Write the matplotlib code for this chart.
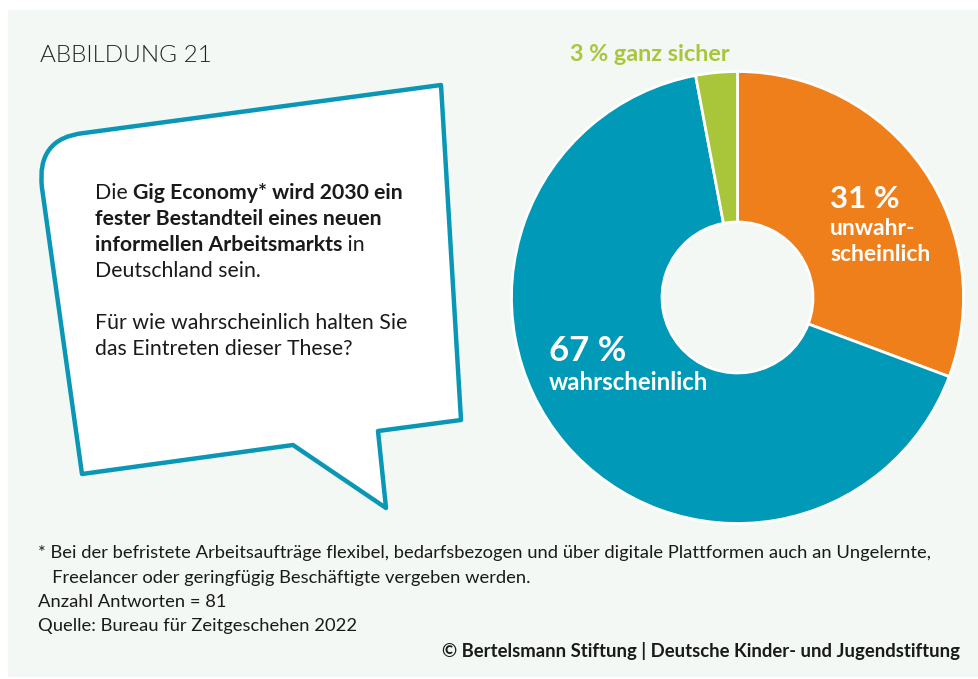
import matplotlib.pyplot as plt
from matplotlib.patches import Rectangle, PathPatch
from matplotlib.path import Path

plt.rcParams['font.family'] = ['Lato', 'DejaVu Sans']

# data
labels = ['unwahrscheinlich', 'wahrscheinlich', 'ganz sicher']
values = [31, 67, 3]
colors = ['#ee7f1b', '#0099b7', '#a9c63b']

title = 'ABBILDUNG 21'
bubble_lines = [
    [('Die ', 'normal'), ('Gig Economy* wird 2030 ein', 'bold')],
    [('fester Bestandteil eines neuen', 'bold')],
    [('informellen Arbeitsmarkts', 'bold'), (' in', 'normal')],
    [('Deutschland sein.', 'normal')],
    [],
    [('Für wie wahrscheinlich halten Sie', 'normal')],
    [('das Eintreten dieser These?', 'normal')],
]
footnotes = [
    '* Bei der befristete Arbeitsaufträge flexibel, bedarfsbezogen und über digitale Plattformen auch an Ungelernte,',
    '   Freelancer oder geringfügig Beschäftigte vergeben werden.',
    'Anzahl Antworten = 81',
    'Quelle: Bureau für Zeitgeschehen 2022',
]
credit = '© Bertelsmann Stiftung | Deutsche Kinder- und Jugendstiftung'

W, H = 979, 679
fig = plt.figure(figsize=(W / 100, H / 100), dpi=100)
fig.patch.set_facecolor('white')

# overlay axes in pixel coordinates (y down)
ov = fig.add_axes([0, 0, 1, 1])
ov.set_xlim(0, W)
ov.set_ylim(H, 0)
ov.axis('off')
ov.add_patch(Rectangle((8, 10), W - 8, 667, facecolor='#f3f8f5', edgecolor='none', zorder=0))

# speech bubble outline
verts = [(84, 133), (441, 85), (461, 420), (378, 431), (386, 508),
         (293, 445), (82, 474), (42, 188), (36, 138), (84, 133)]
codes = [Path.MOVETO, Path.LINETO, Path.LINETO, Path.LINETO, Path.LINETO,
         Path.LINETO, Path.LINETO, Path.LINETO, Path.CURVE3, Path.CURVE3]
ov.add_patch(PathPatch(Path(verts, codes), facecolor='white', edgecolor='#0a97b5',
                       linewidth=3.2, joinstyle='round', zorder=1))

ov.text(40, 62, title, fontsize=17.5, fontweight=300, color='#222222', va='baseline')

# bubble text with mixed weights
fig.canvas.draw()
renderer = fig.canvas.get_renderer()
inv = ov.transData.inverted()
y = 199
for line in bubble_lines:
    x = 95
    for txt, wt in line:
        t = ov.text(x, y, txt, fontsize=15.3, fontweight=wt, color='#1a1a1a',
                    va='baseline', zorder=3)
        bb = t.get_window_extent(renderer=renderer)
        x = inv.transform((bb.x1, bb.y0))[0]
    y += 26

# donut
cx, cy, r = 737.5, 297.5, 226
pax = fig.add_axes([(cx - r) / W, (H - cy - r) / H, 2 * r / W, 2 * r / H])
pax.pie(values, colors=colors, startangle=90, counterclock=False, radius=1,
        wedgeprops=dict(width=1 - 75.5 / 226, edgecolor='white', linewidth=2))
pax.set_xlim(-1, 1)
pax.set_ylim(-1, 1)
pax.set_aspect('equal')
pax.axis('off')

ov2 = fig.add_axes([0, 0, 1, 1])
ov2.set_xlim(0, W)
ov2.set_ylim(H, 0)
ov2.axis('off')
ov2.text(570, 61, f'{values[2]} % {labels[2]}', fontsize=16.8, fontweight='bold',
         color=colors[2], va='baseline')
ov2.text(830, 208, f'{values[0]} %', fontsize=22.5, fontweight='bold', color='white', va='baseline')
ov2.text(830, 235, 'unwahr-', fontsize=16.5, fontweight='bold', color='white', va='baseline')
ov2.text(830, 261, 'scheinlich', fontsize=16.5, fontweight='bold', color='white', va='baseline')
ov2.text(549, 361, f'{values[1]} %', fontsize=25, fontweight='bold', color='white', va='baseline')
ov2.text(549, 390, labels[1], fontsize=17.3, fontweight='bold', color='white', va='baseline')

# footer
fy = 558
for line in footnotes:
    ov2.text(38, fy, line, fontsize=13.2, color='#1a1a1a', va='baseline')
    fy += 24.5
ov2.text(960, 657, credit, fontsize=13.3, fontweight='bold', color='#1a1a1a',
         va='baseline', ha='right')

fig.savefig('out.png', dpi=100, facecolor=fig.get_facecolor())
